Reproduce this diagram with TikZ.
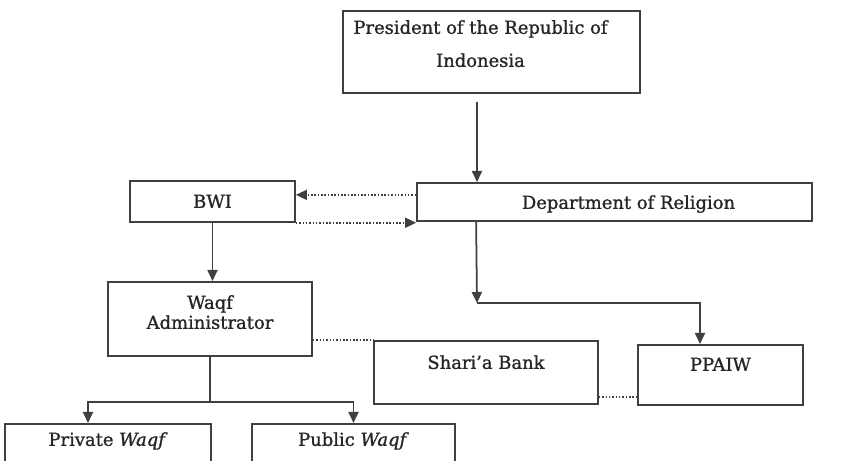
\documentclass[tikz,border=0pt]{standalone}
\usepackage{fontspec}
\setmainfont{DejaVu Serif}[FakeBold=1.2]
\usepackage{tikz}
\usetikzlibrary{arrows.meta}

\begin{document}
\begin{tikzpicture}[
  box/.style={draw=black!75, line width=1pt, inner sep=0pt, align=center, anchor=north,
    font=\fontsize{10.2}{11.4}\selectfont, text=black!85},
  arrow/.style={draw=black!75, line width=1pt, -{Triangle[length=0.22cm,width=0.2cm]}},
  link/.style={draw=black!75, line width=1pt},
  dots/.style={draw=black!75, line width=0.9pt, densely dotted}]

\useasboundingbox (0,0) rectangle (16.88,9.22);
\clip (0,0) rectangle (16.88,9.22);

\node[box, minimum width=5.94cm, text height=1.12cm, text depth=0.52cm] (pres) at (9.83,9.02)
  {President of the Republic of\hspace*{0.44cm}\\[7.4pt] Indonesia\hspace*{0.44cm}};
\node[box, minimum width=7.9cm, text height=0.52cm, text depth=0.24cm] (dept) at (12.29,5.58)
  {\hspace*{0.56cm}Department of Religion};
\node[box, minimum width=3.3cm, text height=0.54cm, text depth=0.28cm] (bwi) at (4.25,5.62) {BWI};
\node[box, minimum width=4.08cm, text height=0.94cm, text depth=0.54cm] (admin) at (4.2,3.6)
  {Waqf\\ Administrator};
\node[box, minimum width=4.48cm, text height=0.56cm, text depth=0.7cm] (bank) at (9.72,2.42)
  {Shari'a Bank};
\node[box, minimum width=3.3cm, text height=0.52cm, text depth=0.68cm] (ppaiw) at (14.41,2.34) {PPAIW};
\node[box, minimum width=4.12cm, text height=0.44cm, text depth=0.6cm] (private) at (2.16,0.76)
  {Private \emph{Waqf}};
\node[box, minimum width=4.06cm, text height=0.44cm, text depth=0.6cm] (public) at (7.07,0.76)
  {Public \emph{Waqf}};

\coordinate (split) at (9.54,3.16);
\coordinate (fork) at (4.2,1.18);

\draw[arrow] ([xshift=-0.29cm,yshift=-0.16cm]pres.south) -- ([xshift=-0.29cm]pres.south |- dept.north);

\draw[dots, -{Triangle[length=0.22cm,width=0.2cm]}] ([yshift=0.14cm]dept.west) -- ([yshift=0.14cm]dept.west -| bwi.east);
\draw[dots, -{Triangle[length=0.22cm,width=0.2cm]}] (bwi.south east) -- (bwi.south east -| dept.west);

\draw[arrow] (bwi.south) -- (bwi.south |- admin.north);

\draw[arrow] ([xshift=1.2cm]dept.south west) -- (split);
\draw[arrow] (split) -| ([xshift=-0.41cm]ppaiw.north);

\draw[dots] (bank.north west -| admin.east) -- (bank.north west);
\draw[dots] ([yshift=0.16cm]bank.south east) -- ([yshift=0.16cm]bank.south east -| ppaiw.west);

\draw[link] (admin.south) -- (fork);
\draw[arrow] (fork) -| ([xshift=-0.4cm]private.north);
\draw[arrow] (fork) -| (public.north);

\end{tikzpicture}
\end{document}
